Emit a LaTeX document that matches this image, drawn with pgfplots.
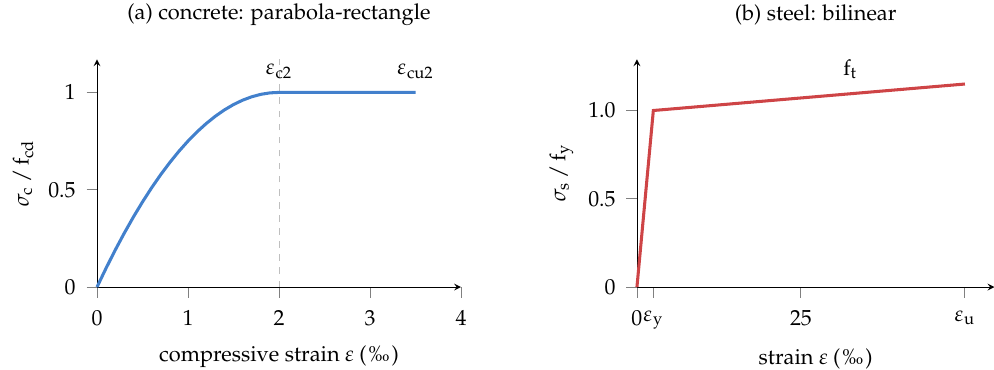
\documentclass[border=0pt]{standalone}
\usepackage[T1]{fontenc}
\usepackage{mathpazo}
\usepackage{pgfplots}
\pgfplotsset{compat=1.18}
\definecolor{cblue}{RGB}{66,128,204}
\definecolor{cred}{RGB}{206,68,70}
\pgfplotsset{
  base/.style={
    scale only axis,
    width=167pt, height=104.5pt,
    axis lines=left,
    axis line style={-stealth, black},
    tick style={gray, thin},
    tick align=outside,
    major tick length=4.8pt,
    ymin=0,
    xticklabel style={yshift=-2.5pt},
    yticklabel style={xshift=-1.5pt},
    xlabel style={yshift=-2pt},
    title style={yshift=6pt},
    clip=false,
  }
}
\begin{document}
\begin{tikzpicture}
\begin{axis}[base,
  name=left,
  xmin=0, xmax=4, ymax=1.17,
  xtick={0,1,2,3,4},
  ytick={0,0.5,1},
  xlabel={compressive strain $\varepsilon$ (\textperthousand)},
  ylabel={$\sigma_{\mathrm{c}}\,/\,\mathrm{f}_{\mathrm{cd}}$},
  title={(a) concrete: parabola-rectangle},
]
\addplot[gray!50, dashed, thin] coordinates {(2,0) (2,1.17)};
\addplot[cblue, line width=1.4pt] coordinates {
(0,0) (0.1,0.0975) (0.2,0.19) (0.3,0.2775) (0.4,0.36) (0.5,0.4375)
(0.6,0.51) (0.7,0.5775) (0.8,0.64) (0.9,0.6975) (1.0,0.75)
(1.1,0.7975) (1.2,0.84) (1.3,0.8775) (1.4,0.91) (1.5,0.9375)
(1.6,0.96) (1.7,0.9775) (1.8,0.99) (1.9,0.9975) (2.0,1) (3.5,1)};
\node[anchor=base] at (axis cs:2,1.09) {$\varepsilon_{\mathrm{c2}}$};
\node[anchor=base] at (axis cs:3.5,1.09) {$\varepsilon_{\mathrm{cu2}}$};
\end{axis}
\begin{axis}[base,
  at={(247.7pt,0)},
  width=164pt,
  xmin=0, xmax=54.5, ymax=1.29,
  xtick={0,2.5,25,50},
  xticklabels={$0$,$\varepsilon_{\mathrm{y}}$,$25$,$\varepsilon_{\mathrm{u}}$},
  ytick={0,0.5,1},
  yticklabels={$0$,$0.5$,$1.0$},
  xlabel={strain $\varepsilon$ (\textperthousand)},
  ylabel={$\sigma_{\mathrm{s}}\,/\,\mathrm{f}_{\mathrm{y}}$},
  title={(b) steel: bilinear},
]
\addplot[cred, line width=1.4pt] coordinates {(0,0) (2.5,1.0) (50,1.15)};
\node[anchor=base] at (axis cs:32.5,1.2) {$\mathrm{f}_{\mathrm{t}}$};
\end{axis}
\pgfresetboundingbox
\useasboundingbox (-44.5pt,-37.6pt) rectangle (411.5pt,131.7pt);
\end{tikzpicture}
\end{document}
